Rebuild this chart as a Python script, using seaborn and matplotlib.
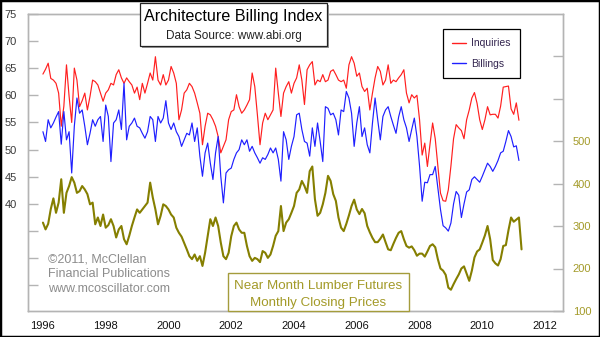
import numpy as np
import pandas as pd
import matplotlib
matplotlib.use("Agg")
import matplotlib.pyplot as plt
import seaborn as sns
from matplotlib.patches import Rectangle

# ---- data (monthly, starting Jan 1996) ----
start_year = 1996
inquiries = [
    63.9, 64.8, 65.9, 63.1, 62.8, 62.2, 60.4, 54.3, 58.0, 65.6, 59.8, 55.0,
    65.0, 62.8, 57.9, 59.0, 60.4, 57.3, 59.8, 62.8, 62.5, 61.9, 60.4, 58.9,
    60.4, 61.0, 62.2, 61.9, 63.8, 64.7, 63.2, 62.2, 63.2, 62.5, 61.9, 60.4,
    61.5, 59.2, 62.2, 60.4, 62.2, 64.1, 62.8, 67.1, 62.8, 61.9, 63.8, 61.9,
    62.8, 65.3, 64.1, 62.2, 55.5, 57.3, 60.4, 61.0, 62.2, 61.6, 60.4, 58.6,
    56.7, 50.9, 54.3, 56.7, 56.4, 55.5, 54.3, 52.4, 49.4, 50.6, 51.8, 55.5,
    57.0, 57.3, 60.1, 57.9, 56.7, 57.3, 58.2, 59.2, 64.1, 61.6, 56.4, 50.9,
    54.9, 56.7, 55.5, 56.4, 57.3, 65.0, 60.4, 56.1, 60.4, 61.6, 62.5, 60.4,
    62.2, 63.2, 65.6, 62.8, 58.3, 64.7, 65.6, 66.2, 61.9, 62.8, 62.5, 63.8,
    62.5, 62.8, 64.4, 64.7, 63.8, 62.8, 62.5, 62.8, 61.3, 65.6, 67.1, 65.9,
    63.5, 64.1, 61.6, 60.7, 61.3, 57.3, 60.4, 63.2, 65.3, 64.4, 61.9, 62.8,
    65.6, 62.2, 62.8, 62.5, 63.2, 63.8, 64.7, 60.4, 58.6, 60.1, 59.5, 60.0,
    55.5, 49.0, 51.2, 46.9, 51.0, 54.9, 52.0, 47.0, 42.0, 40.6, 40.5, 42.6,
    47.0, 52.0, 54.6, 54.0, 53.5, 52.0, 55.5, 57.3, 59.5, 60.5, 58.5, 55.5,
    53.7, 55.5, 57.9, 56.4, 56.5, 56.5, 55.8, 58.0, 61.5, 61.6, 61.7, 57.5,
    56.5, 58.6, 55.4,
]
billings = [
    53.3, 51.5, 55.5, 54.0, 54.9, 56.0, 57.0, 51.0, 57.0, 51.8, 53.3, 45.7,
    54.3, 59.5, 56.7, 57.3, 54.3, 50.9, 53.0, 55.5, 54.3, 55.5, 56.1, 51.5,
    58.2, 56.1, 47.8, 54.9, 55.5, 57.3, 53.7, 62.2, 51.8, 54.3, 54.9, 55.8,
    54.3, 54.0, 53.0, 52.1, 53.3, 56.1, 55.5, 51.5, 56.1, 54.9, 55.8, 59.0,
    54.9, 53.7, 54.9, 53.3, 52.4, 50.6, 51.8, 53.0, 52.7, 54.9, 51.5, 54.0,
    48.8, 45.1, 49.4, 51.2, 47.5, 44.5, 49.4, 52.4, 45.1, 40.2, 45.7, 46.3,
    46.6, 48.2, 49.4, 50.0, 51.8, 50.9, 51.8, 49.7, 50.6, 49.4, 48.5, 47.5,
    48.5, 48.2, 49.1, 50.3, 49.4, 50.3, 48.2, 44.2, 53.3, 51.8, 48.2, 50.6,
    52.4, 56.4, 56.7, 53.7, 51.5, 51.2, 48.8, 54.0, 50.6, 54.9, 51.5, 47.8,
    57.9, 57.6, 56.4, 56.7, 55.5, 52.7, 57.3, 57.0, 60.7, 59.5, 56.7, 50.6,
    54.9, 57.9, 52.4, 54.0, 50.9, 49.4, 54.9, 59.5, 55.5, 51.8, 56.1, 57.3,
    57.9, 56.1, 54.5, 53.0, 56.0, 57.9, 55.5, 54.0, 51.5, 53.7, 55.8, 52.4,
    47.0, 40.5, 44.0, 43.9, 45.4, 45.4, 46.9, 43.0, 39.0, 36.0, 35.6, 35.0,
    36.5, 40.0, 42.3, 41.6, 37.5, 40.0, 42.2, 42.6, 44.5, 45.0, 44.5, 44.0,
    45.1, 46.3, 47.5, 46.9, 46.0, 46.9, 48.0, 49.4, 49.7, 51.5, 53.5, 52.4,
    50.5, 50.7, 48.0,
]
lumber = [
    308, 292, 305, 340, 365, 331, 355, 410, 331, 378, 394, 415,
    402, 378, 382, 394, 386, 375, 351, 355, 304, 320, 300, 327,
    296, 302, 316, 300, 273, 292, 300, 269, 257, 277, 300, 320,
    339, 331, 339, 347, 355, 402, 367, 339, 304, 324, 351, 347,
    339, 327, 320, 296, 284, 275, 260, 245, 229, 222, 233, 218,
    229, 206, 237, 277, 316, 300, 320, 300, 261, 229, 222, 237,
    276, 300, 308, 292, 284, 284, 253, 229, 218, 225, 222, 215,
    241, 237, 225, 233, 253, 277, 288, 347, 288, 308, 316, 331,
    347, 378, 386, 406, 394, 378, 429, 440, 363, 324, 331, 351,
    378, 418, 406, 375, 359, 320, 296, 288, 305, 325, 347, 362,
    339, 328, 340, 330, 300, 285, 272, 262, 262, 270, 280, 262,
    245, 243, 258, 272, 284, 288, 269, 253, 249, 252, 243, 230,
    235, 235, 228, 240, 253, 257, 250, 222, 200, 195, 185, 155,
    150, 163, 175, 186, 200, 205, 188, 171, 195, 226, 240, 245,
    261, 278, 300, 269, 220, 212, 207, 222, 253, 255, 290, 320,
    310, 315, 320, 245,
]
series_names = ["Inquiries", "Billings"]
x_tick_years = list(range(1996, 2013, 2))
left_ticks = [25, 30, 35, 40, 45, 50, 55, 60, 65, 70, 75]
left_labels = ["", "", "", "40", "45", "50", "55", "60", "65", "70", "75"]
right_ticks = [100, 200, 300, 400, 500, 600, 700]
right_labels = ["100", "200", "300", "400", "500", "", ""]
title_text = "Architecture Billing Index"
subtitle_text = "Data Source: www.abi.org"
credit_lines = ["\u00a92011, McClellan", "Financial Publications", "www.mcoscillator.com"]
lumber_lines = ["Near Month Lumber Futures", "Monthly Closing Prices"]

# ---- frames ----
abi_df = pd.concat([
    pd.DataFrame({"year": start_year + np.arange(len(inquiries)) / 12.0,
                  "value": inquiries, "series": series_names[0]}),
    pd.DataFrame({"year": start_year + np.arange(len(billings)) / 12.0,
                  "value": billings, "series": series_names[1]}),
])
lumber_df = pd.DataFrame({"year": start_year + np.arange(len(lumber)) / 12.0,
                          "price": lumber})

sns.set_style("white")
plt.rcParams["font.family"] = ["Liberation Sans", "DejaVu Sans"]

RED = "#ff1f1f"
BLUE = "#1f1fff"
OLIVE = "#857f00"
OLIVE_TXT = "#a39a28"
SPINE = "#b4b4b4"

W, H = 600, 337
fig = plt.figure(figsize=(W / 100, H / 100), dpi=100)
fig.patch.set_facecolor("white")
ax = fig.add_axes([28 / W, 26 / H, 535 / W, 297.5 / H])

sns.lineplot(data=abi_df, x="year", y="value", hue="series",
             palette={"Inquiries": RED, "Billings": BLUE},
             linewidth=0.85, ax=ax, legend=True)
ax.set_xlim(1995.524, 2012.571)
ax.set_ylim(20.3, 75.05)
ax.set_xlabel("")
ax.set_ylabel("")
ax.set_xticks(x_tick_years)
ax.set_xticklabels([str(y) for y in x_tick_years])
ax.set_yticks(left_ticks)
ax.set_yticklabels(left_labels)
ax.tick_params(axis="y", direction="in", length=7, width=1, color=SPINE,
               labelsize=8, labelcolor="#3a3a3a", pad=8)
ax.tick_params(axis="x", length=0, labelsize=8, labelcolor="#111111", pad=7.5)
for s in ax.spines.values():
    s.set_color(SPINE)
    s.set_linewidth(1)

ax2 = ax.twinx()
sns.lineplot(data=lumber_df, x="year", y="price", color=OLIVE,
             linewidth=1.5, ax=ax2)
ax2.set_ylim(100, 800)
ax2.set_ylabel("")
ax2.set_yticks(right_ticks)
ax2.set_yticklabels(right_labels)
ax2.tick_params(axis="y", direction="in", length=7, width=1, color=SPINE,
                labelsize=8, labelcolor=OLIVE_TXT, pad=7)
for s in ax2.spines.values():
    s.set_color(SPINE)
    s.set_linewidth(1)

# legend
handles, labels = ax.get_legend_handles_labels()
leg = ax.legend(handles, labels, loc="upper left",
                bbox_to_anchor=(443 / W, 1 - 29 / H), bbox_transform=fig.transFigure,
                fontsize=7.5, frameon=True, fancybox=False, framealpha=1,
                edgecolor="black", handlelength=1.3, handletextpad=0.5,
                labelspacing=1.0, borderpad=0.9, borderaxespad=0)
leg.get_frame().set_linewidth(0.9)
for t in leg.get_texts():
    t.set_color("#33254f")
for l in leg.get_lines():
    l.set_linewidth(1.0)
leg.set_zorder(10)

# title box
fig.add_artist(Rectangle((142 / W, 1 - 48 / H), 187 / W, 43 / H,
                         transform=fig.transFigure, facecolor="#9a9a9a",
                         edgecolor="none", zorder=5))
fig.add_artist(Rectangle((140 / W, 1 - 46 / H), 187 / W, 43 / H,
                         transform=fig.transFigure, facecolor="white",
                         edgecolor="#222222", linewidth=0.9, zorder=6))
fig.text(233.5 / W, 1 - 16.5 / H, title_text, ha="center", va="center",
         fontsize=11.6, color="black", zorder=7)
fig.text(233.5 / W, 1 - 36 / H, subtitle_text, ha="center", va="center",
         fontsize=8.5, color="#222222", zorder=7)

# credit text
for i, line in enumerate(credit_lines):
    fig.text(48 / W, 1 - (259.5 + 14.8 * i) / H, line, ha="left", va="center",
             fontsize=9.0, color="#8c8c8c")

# lumber caption box
fig.add_artist(Rectangle((228 / W, 26 / H), 181 / W, 38 / H,
                         transform=fig.transFigure, facecolor="white",
                         edgecolor="#a49c3c", linewidth=1.0, zorder=5))
for i, line in enumerate(lumber_lines):
    fig.text(318.5 / W, 1 - (286 + 17 * i) / H, line, ha="center", va="center",
             fontsize=9.6, color=OLIVE_TXT, zorder=7)

# outer frame
fig.add_artist(Rectangle((0, 0), 1, 1, transform=fig.transFigure, fill=False,
                         edgecolor="black", linewidth=2.5, zorder=20))

fig.savefig("out.png", dpi=100, facecolor="white")
